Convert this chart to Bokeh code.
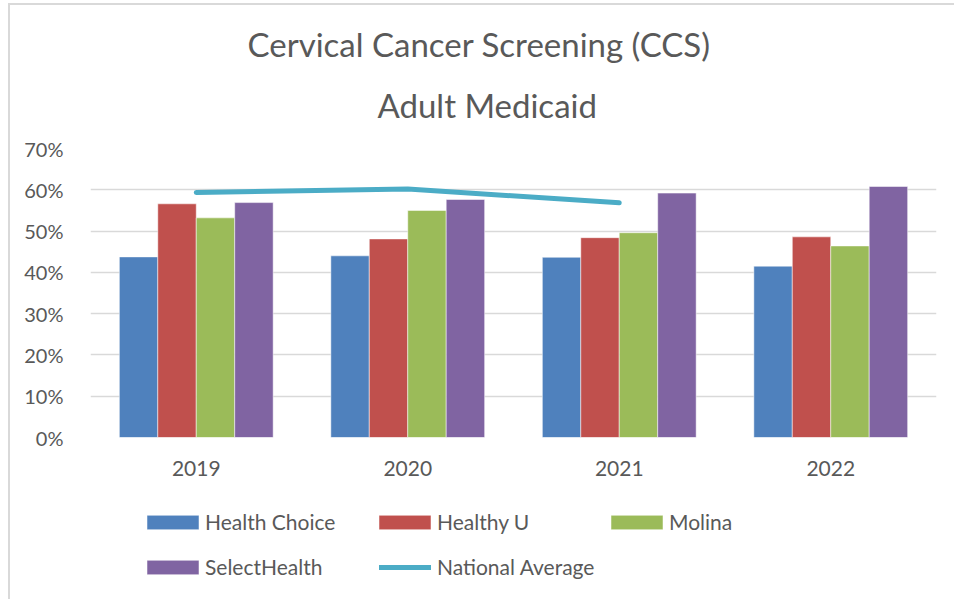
from bokeh.plotting import figure
from bokeh.layouts import column
from bokeh.models import (FactorRange, FixedTicker, NumeralTickFormatter, Legend,
                          LegendItem, Title, Range1d)
from bokeh.transform import dodge
from bokeh.embed import file_html
from bokeh.resources import INLINE

years = ["2019", "2020", "2021", "2022"]
health_choice = [0.4375, 0.440, 0.4365, 0.415]
healthy_u = [0.566, 0.481, 0.484, 0.486]
molina = [0.532, 0.550, 0.496, 0.464]
select_health = [0.569, 0.5765, 0.592, 0.608]
nat_years = ["2019", "2020", "2021"]
national_avg = [0.5935, 0.602, 0.5685]

series_names = ["Health Choice", "Healthy U", "Molina", "SelectHealth"]
series_vals = [health_choice, healthy_u, molina, select_health]
colors = ["#4F81BD", "#C0504D", "#9BBB59", "#8064A2"]
line_color = "#4BACC6"
text_color = "#595959"
FONT = "Lato"

p = figure(width=944, height=477, x_range=FactorRange(*years), y_range=(0, 0.7),
           output_backend="svg", toolbar_location=None,
           min_border_left=80, min_border_right=18, min_border_top=143, min_border_bottom=45)
p.outline_line_color = None
p.background_fill_color = "white"
p.border_fill_color = "white"

w = 1 / 5.5
data = dict(year=years)
for n, v in zip(series_names, series_vals):
    data[n] = v

for i, (n, c) in enumerate(zip(series_names, colors)):
    p.vbar(x=dodge("year", (i - 1.5) * w, range=p.x_range), top=n, width=w,
           source=data, fill_color=c, line_color="white", line_alpha=0.5, line_width=1)

p.line(x=nat_years, y=national_avg, line_color=line_color, line_width=5,
       line_cap="round", line_join="round")

# axes
p.yaxis.ticker = FixedTicker(ticks=[0, 0.1, 0.2, 0.3, 0.4, 0.5, 0.6, 0.7])
p.yaxis.formatter = NumeralTickFormatter(format="0%")
for ax in (p.xaxis[0], p.yaxis[0]):
    ax.axis_line_color = None
    ax.major_tick_line_color = None
    ax.minor_tick_line_color = None
    ax.major_label_text_font = FONT
    ax.major_label_text_color = text_color
p.yaxis.major_label_text_font_size = "20px"
p.xaxis.major_label_text_font_size = "21px"
p.yaxis.major_label_standoff = 21
p.xaxis.major_label_standoff = 17
p.xgrid.grid_line_color = None
p.ygrid.grid_line_color = "#D9D9D9"
p.ygrid.grid_line_width = 1.5

# titles
t2 = Title(text="Adult Medicaid", align="left", text_font=FONT, text_font_size="33px",
           text_color=text_color, text_font_style="normal", standoff=48, offset=287)
t1 = Title(text="Cervical Cancer Screening (CCS)", align="left", text_font=FONT,
           text_font_size="33px", text_color=text_color, text_font_style="normal",
           standoff=-10, offset=157)
p.add_layout(t2, "above")
p.add_layout(t1, "above")

# legend strip
p2 = figure(width=944, height=117, x_range=Range1d(0, 1), y_range=Range1d(0, 1),
            output_backend="svg", toolbar_location=None, x_axis_type=None, y_axis_type=None,
            min_border=0)
p2.outline_line_color = None
p2.grid.visible = False
leg_r = {}
for n, c in zip(series_names, colors):
    leg_r[n] = p2.vbar(x=[-1], top=[0], width=0.1, fill_color=c, line_color="white",
                       line_alpha=0.5, line_width=1)
leg_r["National Average"] = p2.line(x=[-2, -1], y=[0, 0], line_color=line_color,
                                    line_width=5, line_cap="round")

def make_legend(name, loc, gw, gh, standoff):
    lg = Legend(items=[LegendItem(label=name, renderers=[leg_r[name]])],
                location=loc, orientation="vertical", glyph_width=gw, glyph_height=gh,
                label_standoff=standoff, padding=0, margin=0,
                border_line_color=None, background_fill_alpha=0,
                label_text_font=FONT, label_text_font_size="21px",
                label_text_color=text_color)
    p2.add_layout(lg)

ROW1, ROW2 = 65, 20
make_legend("Health Choice", (50, ROW1), 65, 18, 0)
make_legend("SelectHealth", (50, ROW2), 65, 18, 0)
make_legend("Healthy U", (282, ROW1), 65, 18, 0)
make_legend("National Average", (289, ROW2), 52, 14, 6)
make_legend("Molina", (514, ROW1), 65, 18, 0)

layout = column(p, p2, spacing=0)
layout.styles = {"margin-left": "8px", "margin-top": "3px",
                 "border-left": "2px solid #D9D9D9", "border-top": "2px solid #D9D9D9"}

open("out.html", "w").write(file_html(layout, INLINE))
